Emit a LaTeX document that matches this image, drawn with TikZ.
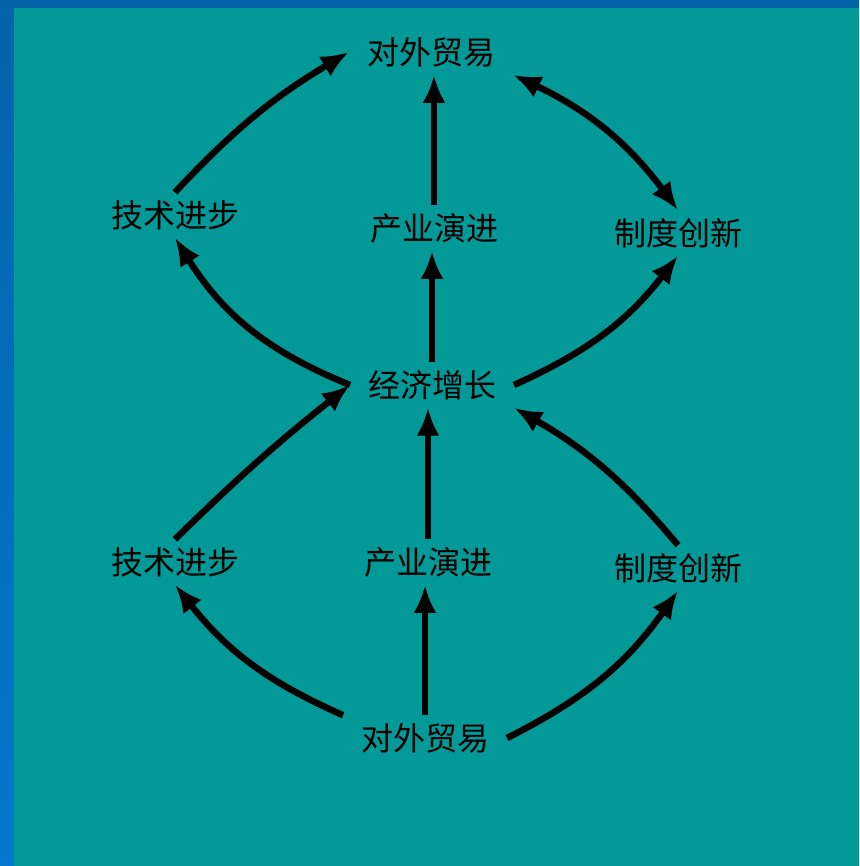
\documentclass[tikz,border=0pt]{standalone}
\usepackage{fontspec}
\newfontfamily\cjk{Noto Sans CJK SC}
\usetikzlibrary{arrows.meta,positioning}
\definecolor{slidebg}{HTML}{039997}
\definecolor{edgetop}{HTML}{0464AA}
\definecolor{edgebot}{HTML}{0378CC}

\begin{document}
\begin{tikzpicture}[
  x=1pt, y=-1pt,
  lbl/.style={font=\cjk\fontsize{32}{32}\selectfont, inner sep=4pt,
              outer xsep=14pt, outer ysep=4pt},
  arr/.style={line width=6.5pt, -{Latex[length=28pt,width=23pt]}},
  darr/.style={line width=6.5pt, {Latex[length=28pt,width=23pt]}-{Latex[length=28pt,width=23pt]}}
]
\useasboundingbox (0,0) rectangle (859,866);
\fill[top color=edgetop, bottom color=edgebot] (0,0) rectangle (859,866);
\fill[slidebg] (14,8) rectangle (859,866);

\node[lbl] (dw1) at (431,52)  {对外贸易};
\node[lbl] (js1) at (175,215) {技术进步};
\node[lbl] (cy1) at (434,228) {产业演进};
\node[lbl] (zd1) at (678,233) {制度创新};
\node[lbl] (jj)  at (432,385) {经济增长};
\node[lbl] (js2) at (175,562) {技术进步};
\node[lbl] (cy2) at (428,562) {产业演进};
\node[lbl] (zd2) at (678,568) {制度创新};
\node[lbl] (dw2) at (425,738) {对外贸易};

% upper half
\draw[arr]  (js1.north) to[bend left=8] (dw1.west);
\draw[arr]  (cy1.north) -- (cy1.north |- dw1.south);
\draw[darr] (dw1.south east) to[bend left=14] (zd1.north);
\draw[arr]  (jj.west) to[bend left=18] (js1.south);
\draw[arr]  (jj.north) -- (jj.north |- cy1.south);
\draw[arr]  (jj.east) to[bend right=14] (zd1.south);

% lower half
\draw[arr]  (js2.north) to[bend left=3] (jj.west);
\draw[arr]  (cy2.north) -- (cy2.north |- jj.south);
\draw[arr]  (zd2.north) to[bend right=10] (jj.south east);
\draw[arr]  (dw2.north west) to[bend left=14] (js2.south);
\draw[arr]  (dw2.north) -- (dw2.north |- cy2.south);
\draw[arr]  (dw2.east) to[bend right=14] (zd2.south);
\end{tikzpicture}
\end{document}
